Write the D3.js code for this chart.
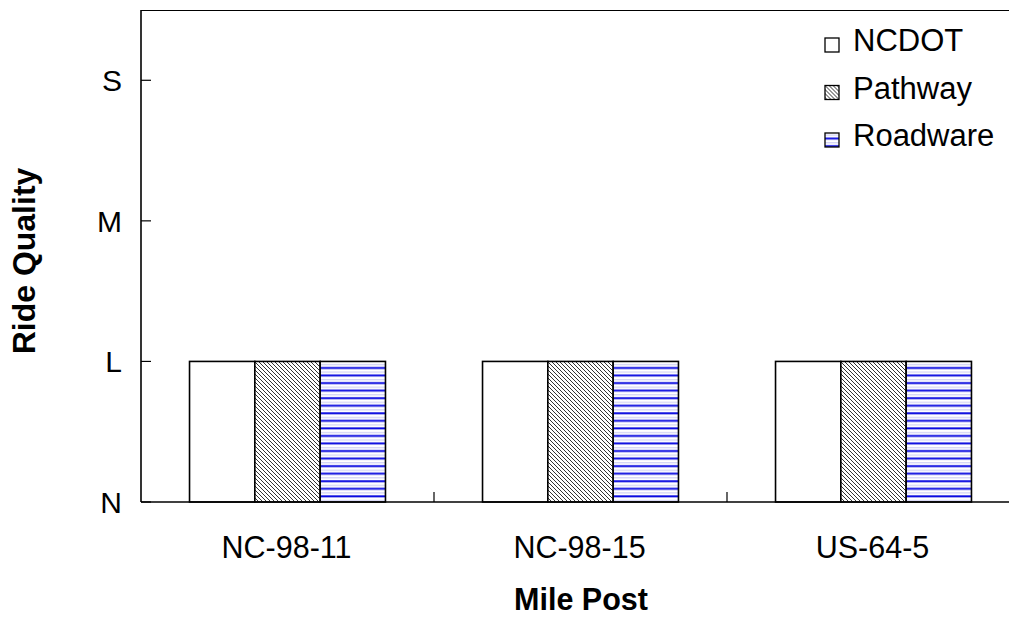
<!DOCTYPE html>
<html>
<head>
<meta charset="utf-8">
<script src="https://cdn.jsdelivr.net/npm/d3@7"></script>
<style>
  html, body { margin: 0; padding: 0; background: #fff; }
  svg { display: block; font-family: Arial, "Liberation Sans", sans-serif; }
</style>
</head>
<body>
<svg id="chart" width="1009" height="617"></svg>
<script>
// ---- data ----
const categories = ["NC-98-11", "NC-98-15", "US-64-5"];
const seriesNames = ["NCDOT", "Pathway", "Roadware"];
const ncdot = [1, 1, 1];
const pathway = [1, 1, 1];
const roadware = [1, 1, 1];
const yTickValues = [0, 1, 2, 3];
const yTickLabels = ["N", "L", "M", "S"];
const xTitle = "Mile Post";
const yTitle = "Ride Quality";

const seriesValues = [ncdot, pathway, roadware];

// ---- layout ----
const W = 1009, H = 617;
const plotLeft = 141, plotTop = 10, plotBottom = 502;
const groupStep = 293;
const plotRight = plotLeft + groupStep * categories.length;

const svg = d3.select("#chart");

// patterns
const defs = svg.append("defs");
const pHatch = defs.append("pattern")
  .attr("id", "hatch").attr("patternUnits", "userSpaceOnUse")
  .attr("width", 4).attr("height", 4);
pHatch.append("rect").attr("width", 4).attr("height", 4).attr("fill", "#ffffff");
pHatch.append("path").attr("d", "M-1,-1 L5,5 M-1,3 L1,5 M3,-1 L5,1")
  .attr("stroke", "#333").attr("stroke-width", 1.0);

const pStripe = defs.append("pattern")
  .attr("id", "stripe").attr("patternUnits", "userSpaceOnUse")
  .attr("width", 8).attr("height", 7.55).attr("y", 362);
pStripe.append("rect").attr("width", 8).attr("height", 7.55).attr("fill", "#ffffff");
pStripe.append("rect").attr("y", 5.0).attr("width", 8).attr("height", 1.9).attr("fill", "#0808e0");
pStripe.append("rect").attr("y", 6.9).attr("width", 8).attr("height", 0.8).attr("fill", "#9c9cee");
pStripe.append("rect").attr("y", 2.0).attr("width", 8).attr("height", 1.2).attr("fill", "#d0d0f4");

const fills = ["#ffffff", "url(#hatch)", "url(#stripe)"];

// scales
const x0 = d3.scaleBand().domain(categories).range([plotLeft, plotRight]).paddingInner(0).paddingOuter(0);
const x1 = d3.scaleBand().domain(seriesNames).range([0, x0.bandwidth()]).paddingInner(0).paddingOuter(0.743);
const y = d3.scaleLinear().domain([0, 3.5]).range([plotBottom, plotTop]);

// bars
const groups = svg.append("g").selectAll("g")
  .data(categories).join("g")
  .attr("transform", d => `translate(${x0(d)},0)`);

groups.selectAll("rect")
  .data((c, ci) => seriesNames.map((s, si) => ({ s, si, v: seriesValues[si][ci] })))
  .join("rect")
  .attr("x", d => x1(d.s))
  .attr("width", x1.bandwidth())
  .attr("y", d => y(d.v))
  .attr("height", d => y(0) - y(d.v))
  .attr("fill", d => fills[d.si])
  .attr("stroke", "#000")
  .attr("stroke-width", 1.6);

// frame
const axisColor = "#000";
svg.append("line").attr("x1", plotLeft).attr("x2", W).attr("y1", plotTop + 0.5).attr("y2", plotTop + 0.5)
  .attr("stroke", axisColor).attr("stroke-width", 1.2);
svg.append("line").attr("x1", plotLeft).attr("x2", plotLeft).attr("y1", plotTop).attr("y2", plotBottom)
  .attr("stroke", axisColor).attr("stroke-width", 1.6);
svg.append("line").attr("x1", plotLeft).attr("x2", W).attr("y1", plotBottom).attr("y2", plotBottom)
  .attr("stroke", axisColor).attr("stroke-width", 1.6);

// y axis ticks and labels
const yAxis = svg.append("g");
yAxis.selectAll("line").data(yTickValues).join("line")
  .attr("x1", plotLeft).attr("x2", plotLeft + 10)
  .attr("y1", d => y(d)).attr("y2", d => y(d))
  .attr("stroke", axisColor).attr("stroke-width", 1.2);
yAxis.selectAll("text").data(yTickValues).join("text")
  .attr("x", 122).attr("y", d => y(d))
  .attr("dy", "0.36em")
  .attr("text-anchor", "end")
  .attr("font-size", 30)
  .text((d, i) => yTickLabels[i]);

// x axis ticks (category boundaries) and labels
const xb = categories.slice(1).map(c => x0(c));
svg.append("g").selectAll("line").data(xb).join("line")
  .attr("x1", d => d).attr("x2", d => d)
  .attr("y1", plotBottom).attr("y2", plotBottom - 10)
  .attr("stroke", axisColor).attr("stroke-width", 1.2);
svg.append("g").selectAll("text").data(categories).join("text")
  .attr("x", d => x0(d) + x0.bandwidth() / 2 - 1)
  .attr("y", 558)
  .attr("text-anchor", "middle")
  .attr("font-size", 30.5)
  .text(d => d);

// axis titles
svg.append("text")
  .attr("x", 581).attr("y", 610)
  .attr("text-anchor", "middle")
  .attr("font-size", 30.5).attr("font-weight", "bold")
  .text(xTitle);
svg.append("text")
  .attr("transform", "translate(35,261) rotate(-90)")
  .attr("text-anchor", "middle")
  .attr("font-size", 32).attr("font-weight", "bold")
  .text(yTitle);

// legend
const legend = svg.append("g");
const legendRows = legend.selectAll("g").data(seriesNames).join("g")
  .attr("transform", (d, i) => `translate(825,${38 + i * 47.5})`);
legendRows.append("rect")
  .attr("width", 14).attr("height", 14)
  .attr("fill", (d, i) => fills[i])
  .attr("stroke", "#000").attr("stroke-width", 1.3);
legendRows.append("text")
  .attr("x", 28).attr("y", 13)
  .attr("font-size", 31)
  .text(d => d);
</script>
</body>
</html>
